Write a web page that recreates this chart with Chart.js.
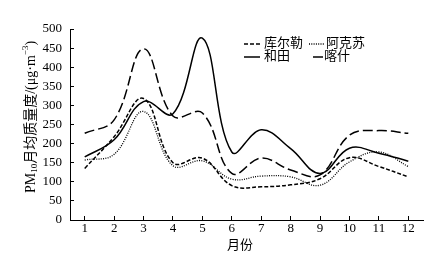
<!DOCTYPE html>
<html lang="zh">
<head>
  <meta charset="UTF-8" />
  <title>PM10 月均质量浓度</title>
  <script src="https://cdn.jsdelivr.net/npm/chart.js"></script>
  <style>
    body { margin: 0; background: #fff; }
    #wrap { width: 448px; height: 258px; }
  </style>
</head>
<body>
  <div id="wrap"><canvas id="pmChart" width="448" height="258"></canvas></div>

  <script>
    // data
    const months = ['1', '2', '3', '4', '5', '6', '7', '8', '9', '10', '11', '12'];
    const korla  = [135, 218, 318, 150, 162, 90, 87, 92, 108, 163, 140, 113];   // 库尔勒
    const aksu   = [157, 172, 284, 142, 155, 107, 115, 113, 91, 152, 178, 140]; // 阿克苏
    const hotan  = [165, 210, 310, 278, 476, 178, 236, 187, 122, 188, 175, 154]; // 和田
    const kashi  = [227, 262, 448, 272, 280, 122, 162, 131, 118, 222, 234, 227]; // 喀什
    const yTicks = [0, 50, 100, 150, 200, 250, 300, 350, 400, 450, 500];

    const serif = '"Liberation Serif", "Noto Sans CJK SC", serif';

    const datasets = [
      { label: '库尔勒', data: korla, borderDash: [4, 2], borderWidth: 1.5 },
      { label: '阿克苏', data: aksu, borderDash: [1, 1.3], borderWidth: 1.3 },
      { label: '和田', data: hotan, borderDash: [], borderWidth: 1.5 },
      { label: '喀什', data: kashi, borderDash: [10, 4], borderWidth: 1.5 }
    ].map(d => Object.assign(d, {
      borderColor: '#000',
      backgroundColor: '#000',
      pointRadius: 0,
      tension: 0.4,
      fill: false
    }));

    // axis titles with sub/superscript + the 2x2 legend
    const extras = {
      id: 'extras',
      afterDraw(chart) {
        const c = chart.ctx;
        c.save();
        c.fillStyle = '#000';
        c.textBaseline = 'middle';

        // y title, rotated
        const parts = [
          { t: 'PM', s: 14, dy: 0 },
          { t: '10', s: 9, dy: 4 },
          { t: '月均质量度/(μg·m', s: 14, dy: 0 },
          { t: '−3', s: 9, dy: -5 },
          { t: ')', s: 14, dy: 0 }
        ];
        let total = 0;
        parts.forEach(p => { c.font = p.s + 'px ' + serif; p.w = c.measureText(p.t).width; total += p.w; });
        c.translate(31, 117);
        c.rotate(-Math.PI / 2);
        let x = -total / 2;
        parts.forEach(p => {
          c.font = p.s + 'px ' + serif;
          c.textAlign = 'left';
          c.fillText(p.t, x, p.dy);
          x += p.w;
        });
        c.setTransform(1, 0, 0, 1, 0, 0);

        // x title
        c.font = '13px ' + serif;
        c.textAlign = 'center';
        c.fillText('月份', 240, 246);

        // legend
        const slots = [
          { x1: 244, x2: 260, tx: 264, y: 44 },
          { x1: 309, x2: 325, tx: 326, y: 44 },
          { x1: 244, x2: 260, tx: 264, y: 57 },
          { x1: 313, x2: 324, tx: 324, y: 57 }
        ];
        chart.data.datasets.forEach((ds, i) => {
          const s = slots[i];
          c.beginPath();
          c.setLineDash(ds.borderDash);
          c.lineWidth = ds.borderWidth;
          c.strokeStyle = '#000';
          c.moveTo(s.x1, s.y);
          c.lineTo(s.x2, s.y);
          c.stroke();
          c.setLineDash([]);
          c.font = '13px ' + serif;
          c.textAlign = 'left';
          c.fillText(ds.label, s.tx, s.y);
        });
        c.restore();
      }
    };

    new Chart(document.getElementById('pmChart'), {
      type: 'line',
      data: { labels: months, datasets: datasets },
      options: {
        responsive: false,
        animation: false,
        layout: { padding: { top: 29, right: 25, bottom: 0, left: 0 } },
        plugins: { legend: { display: false }, tooltip: { enabled: false } },
        scales: {
          x: {
            type: 'category',
            offset: true,
            afterFit(scale) { scale.height = 38; },
            grid: { drawOnChartArea: false, tickLength: -4, color: '#000', offset: false },
            border: { display: true, color: '#000', width: 1 },
            ticks: { color: '#000', padding: 5, maxRotation: 0, font: { family: serif, size: 13 } }
          },
          y: {
            min: 0,
            max: 500,
            afterFit(scale) { scale.width = 70; },
            afterBuildTicks(scale) { scale.ticks = yTicks.map(v => ({ value: v })); },
            grid: { drawOnChartArea: false, tickLength: -4, color: '#000' },
            border: { display: true, color: '#000', width: 1 },
            ticks: { color: '#000', padding: 12, font: { family: serif, size: 13 } }
          }
        }
      },
      plugins: [extras]
    });
  </script>
</body>
</html>
